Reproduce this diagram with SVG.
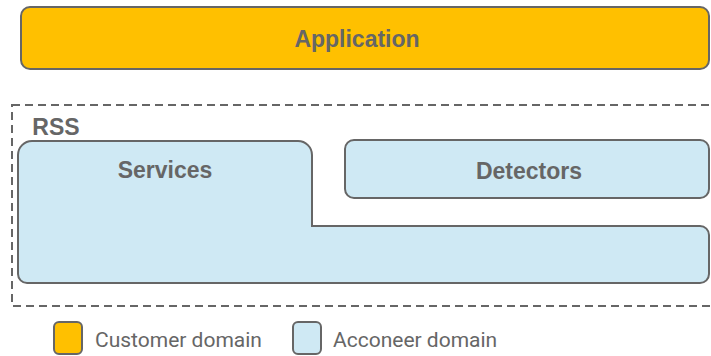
<svg xmlns="http://www.w3.org/2000/svg" width="711" height="356" viewBox="0 0 711 356">
<style>
.box{stroke:#666;stroke-width:2}
.cust{fill:#FFC000}
.acc{fill:#CFE9F4}
.t{font-family:"Liberation Sans",Arial,sans-serif;font-weight:bold;fill:#666;font-size:23px;text-anchor:middle}
.leg{font-family:Roboto,"Liberation Sans",sans-serif;fill:#666;font-size:21px}
</style>
<rect width="711" height="356" fill="#fff"/>
<g id="application">
<rect class="box cust" x="21" y="7" width="688" height="62" rx="9"/>
<text class="t" x="357" y="47">Application</text>
</g>
<g id="rss">
<rect x="12" y="105" width="710" height="201" fill="none" stroke="#666" stroke-width="2" stroke-dasharray="8,5"/>
<text class="t" x="56" y="135">RSS</text>
</g>
<g id="services">
<path class="box acc" d="M32,141 H298 A14,14 0 0 1 312,155 V226 H700 A9,9 0 0 1 709,235 V274 A9,9 0 0 1 700,283 H27 A9,9 0 0 1 18,274 V155 A14,14 0 0 1 32,141 Z"/>
<text class="t" x="165" y="178">Services</text>
</g>
<g id="detectors">
<rect class="box acc" x="345" y="140" width="364" height="58" rx="9"/>
<text class="t" x="529" y="179">Detectors</text>
</g>
<g id="legend">
<rect class="box cust" x="54" y="322" width="28" height="32" rx="5"/>
<text class="leg" x="95" y="347">Customer domain</text>
<rect class="box acc" x="293" y="322" width="28" height="32" rx="5"/>
<text class="leg" x="333" y="347">Acconeer domain</text>
</g>
</svg>
